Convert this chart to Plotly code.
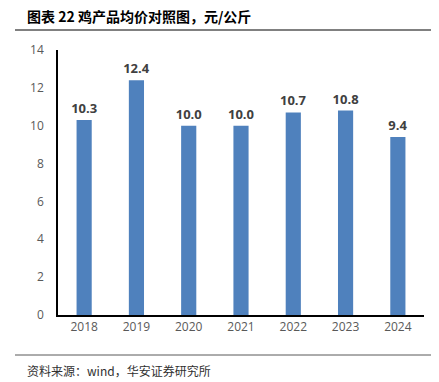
import plotly.graph_objects as go

years = ["2018", "2019", "2020", "2021", "2022", "2023", "2024"]
prices = [10.3, 12.4, 10.0, 10.0, 10.7, 10.8, 9.4]
y_ticks = [0, 2, 4, 6, 8, 10, 12, 14]

OFF = 8  # default body margin of the html page
W, H = 439 - OFF, 382 - OFF


def px_x(x):
    return (x - OFF) / W


def px_y(y):
    return 1 - (y - OFF) / H


fig = go.Figure()
fig.add_trace(go.Bar(
    x=years, y=prices,
    marker=dict(color="#4F81BD", line=dict(width=0)),
    text=[f"{v:.1f}" for v in prices],
    textposition="outside",
    constraintext="none",
    textfont=dict(family="Open Sans, Arial", size=13, color="#404040", weight="bold"),
    cliponaxis=False,
))

fig.update_layout(
    width=W, height=H,
    margin=dict(l=0, r=0, t=0, b=0, pad=0, autoexpand=False),
    plot_bgcolor="rgba(0,0,0,0)", paper_bgcolor="white",
    bargap=0.71,
    showlegend=False,
    xaxis=dict(
        type="category", range=[-0.5, 6.5],
        domain=[px_x(58), px_x(424)],
        showline=True, linecolor="black", linewidth=1.5,
        ticks="", showgrid=False,
        tickfont=dict(family="Open Sans, Arial", size=12, color="#595959"),
    ),
    yaxis=dict(
        range=[0, 14], tickvals=y_ticks,
        domain=[px_y(315), px_y(50)],
        showline=True, linecolor="black", linewidth=1.5,
        ticks="", showgrid=False, zeroline=False,
        tickfont=dict(family="Open Sans, Arial", size=12, color="#595959"),
        ticklabelstandoff=10,
    ),
    font=dict(family="Noto Sans CJK SC"),
)

# decorative rules above and below the chart, drawn as arrow-less annotation lines
for ypix, col, wid in [(30, "#808080", 2), (355, "#595959", 1)]:
    fig.add_annotation(
        text=" ", xref="paper", yref="paper",
        x=px_x(15), y=px_y(ypix),
        showarrow=True, arrowhead=0, arrowwidth=wid, arrowcolor=col,
        ax=424, ay=0, standoff=0, startstandoff=0,
        font=dict(size=1), borderpad=0,
    )

fig.add_annotation(text="<b>图表 22 鸡产品均价对照图，元/公斤</b>",
                   xref="paper", yref="paper",
                   x=px_x(25), y=px_y(16), xanchor="left", yanchor="middle",
                   showarrow=False,
                   font=dict(family="Noto Sans CJK SC", size=14, color="black"))
fig.add_annotation(text="资料来源：wind，华安证券研究所",
                   xref="paper", yref="paper",
                   x=px_x(25), y=px_y(370), xanchor="left", yanchor="middle",
                   showarrow=False,
                   font=dict(family="Noto Sans CJK SC", size=12, color="#303030"))

fig.write_html("out.html")
